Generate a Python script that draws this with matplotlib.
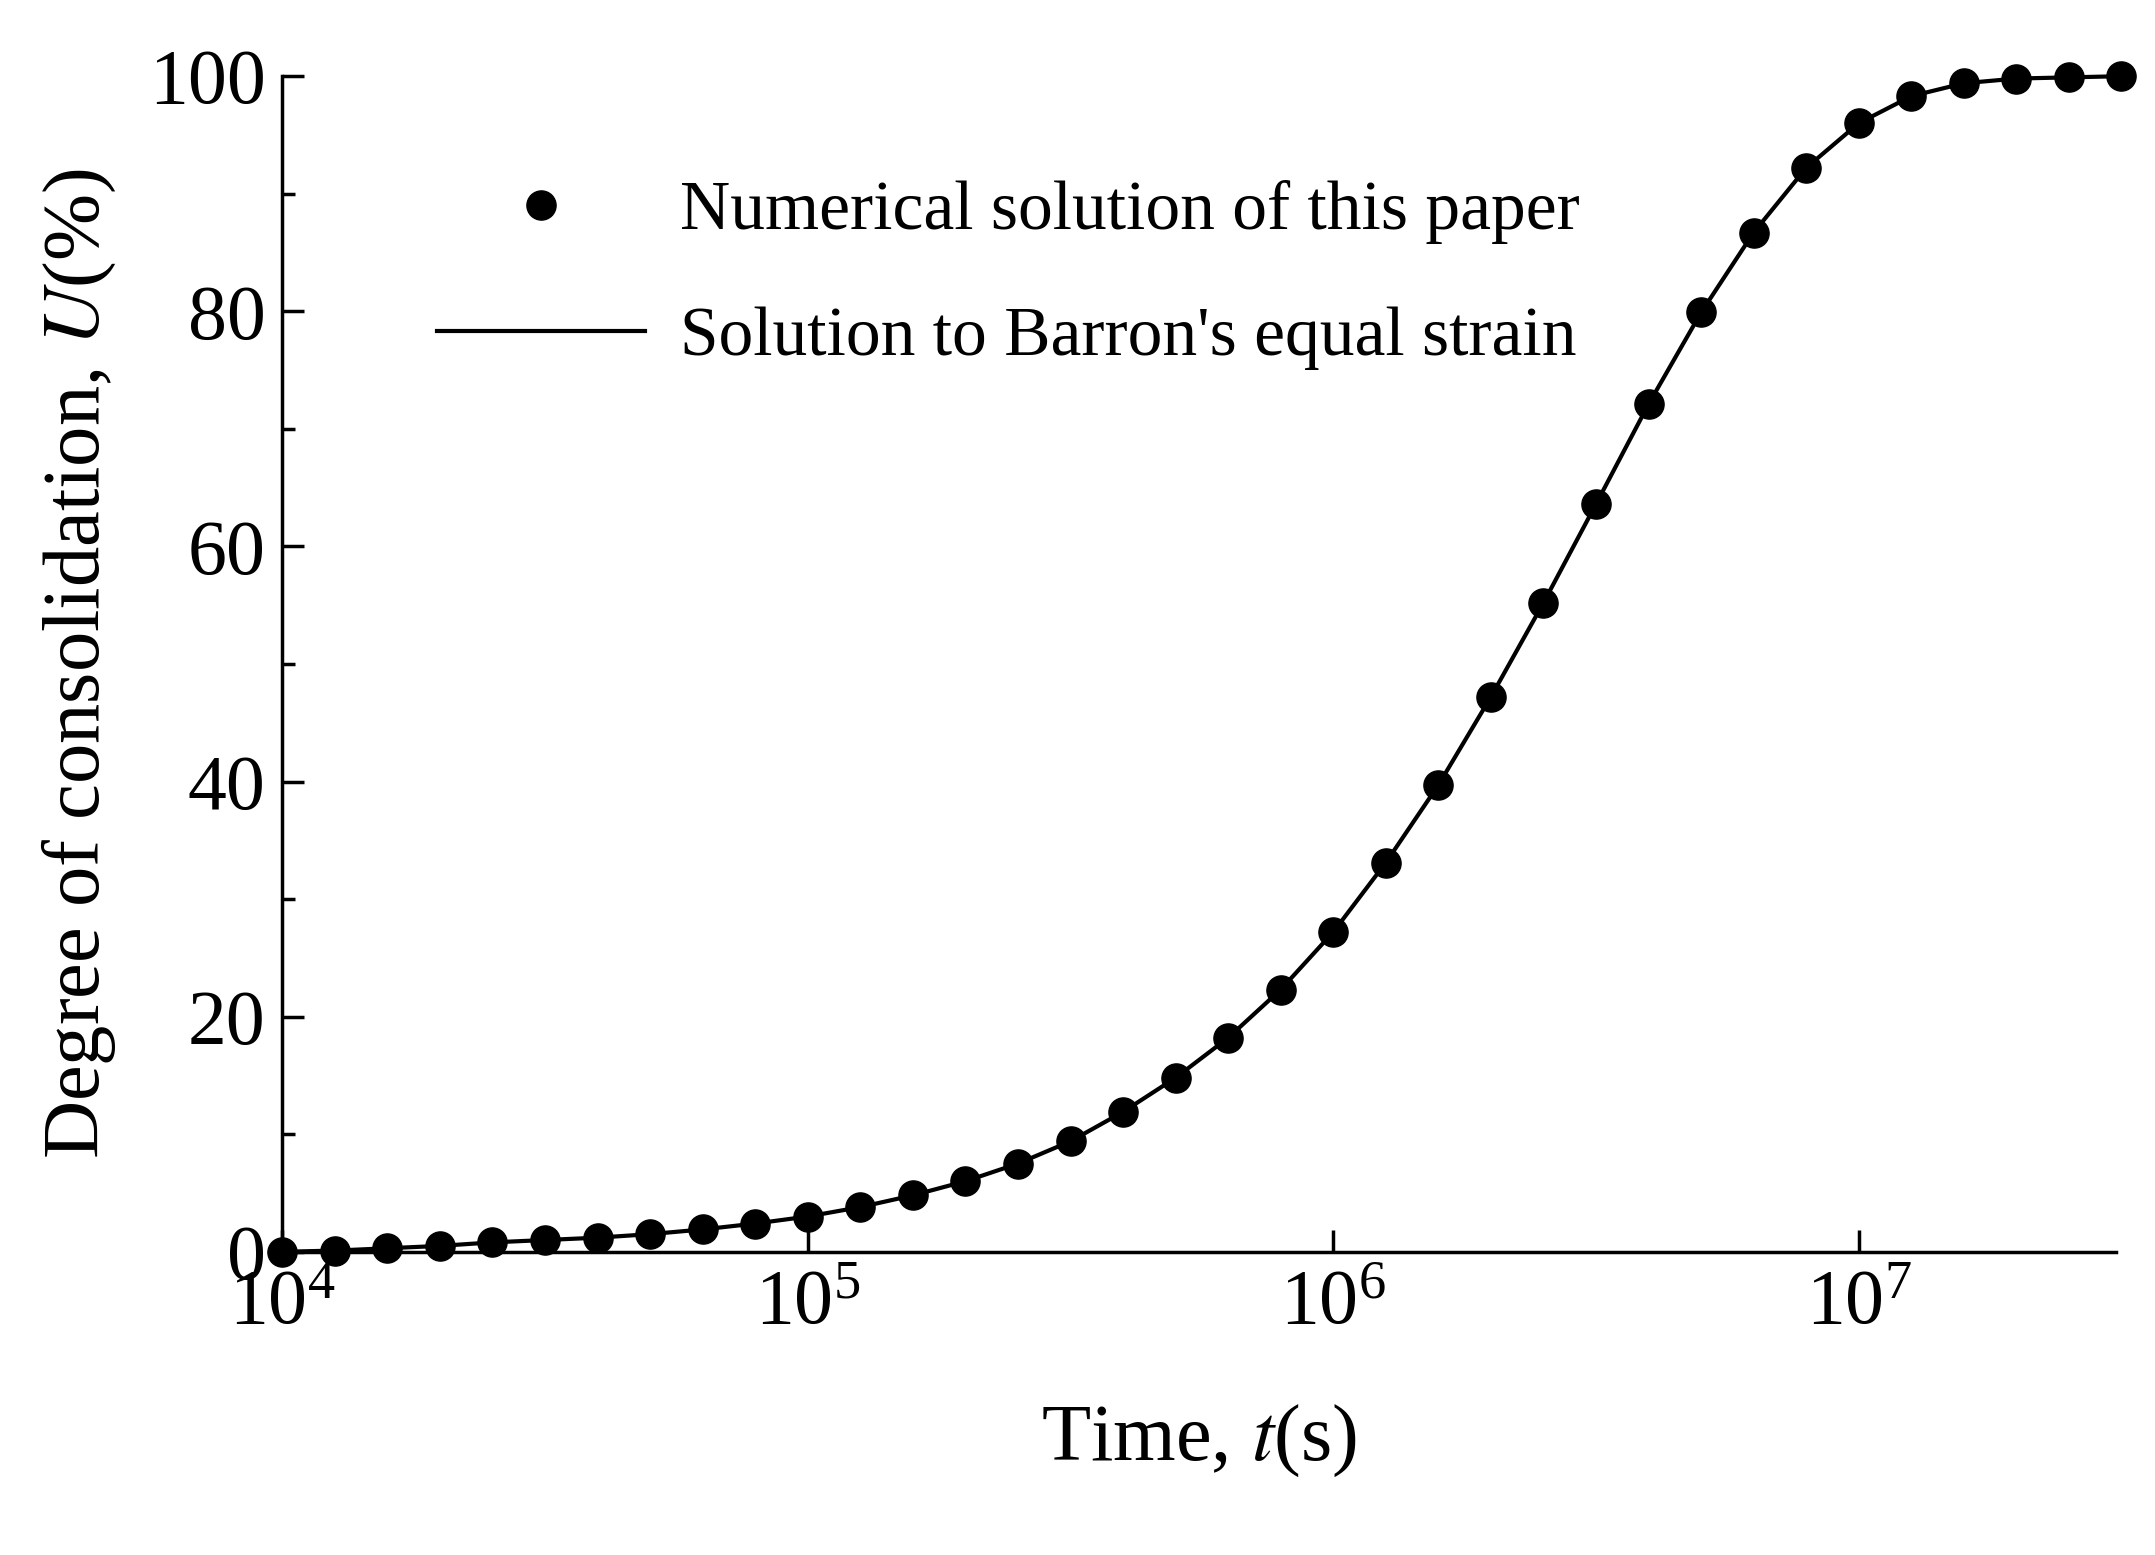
import numpy as np
import matplotlib.pyplot as plt
from matplotlib.ticker import MultipleLocator, NullLocator

plt.rcParams['font.family'] = ['Liberation Serif', 'DejaVu Serif']
plt.rcParams['mathtext.fontset'] = 'stix'

# time points, 10 per decade from 1e4
exponents = [4 + k / 10 for k in range(36)]
time_s = [10 ** e for e in exponents]
U_num = [0.0, 0.1, 0.3, 0.5, 0.8, 1.0, 1.2, 1.5, 1.9, 2.4,
         3.0, 3.8, 4.8, 6.0, 7.5, 9.4, 11.9, 14.8, 18.2, 22.3,
         27.2, 33.1, 39.7, 47.2, 55.2, 63.6, 72.1, 79.9, 86.7, 92.2,
         96.0, 98.3, 99.4, 99.8, 99.9, 100.0]
U_barron = U_num

fig = plt.figure(figsize=(21.55, 15.55), dpi=100)
ax = fig.add_axes([0.131, 0.195, 0.851, 0.756])

ax.plot(time_s, U_barron, color='black', lw=3, label="Solution to Barron's equal strain",
        zorder=2, clip_on=False)
ax.plot(time_s, U_num, 'o', color='black', ms=21, label='Numerical solution of this paper',
        zorder=3, clip_on=False)

ax.set_xscale('log')
ax.set_xlim(1e4, 10 ** 7.49)
ax.set_ylim(0, 100)
ax.yaxis.set_major_locator(MultipleLocator(20))
ax.yaxis.set_minor_locator(MultipleLocator(10))
ax.xaxis.set_minor_locator(NullLocator())

for s in ['top', 'right']:
    ax.spines[s].set_visible(False)
for s in ['left', 'bottom']:
    ax.spines[s].set_linewidth(2.5)

ax.tick_params(which='major', direction='in', length=16, width=2.5, labelsize=56, pad=12)
ax.tick_params(which='minor', direction='in', length=9, width=2.5)

ax.set_xlabel('Time, $t$(s)', fontsize=58, labelpad=45)
ax.set_ylabel('Degree of consolidation, $U$(%)', fontsize=58, labelpad=22)

h, l = ax.get_legend_handles_labels()
ax.legend(h[::-1], l[::-1], loc='upper left', bbox_to_anchor=(0.05, 0.965), frameon=False,
          fontsize=50, handlelength=3, labelspacing=0.9, handletextpad=0.5)

fig.savefig('out.png', dpi=100)
